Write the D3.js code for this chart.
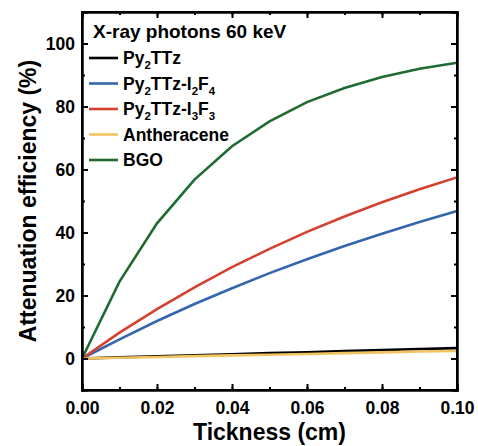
<!DOCTYPE html>
<html>
<head>
<meta charset="utf-8">
<script src="https://cdn.jsdelivr.net/npm/d3@7"></script>
<style>
  body { margin: 0; background: #fff; }
  text { font-family: Arial, "Liberation Sans", sans-serif; font-weight: bold; }
</style>
</head>
<body>
<svg id="chart" width="478" height="446"></svg>
<script>
// data
const thickness = [0, 0.01, 0.02, 0.03, 0.04, 0.05, 0.06, 0.07, 0.08, 0.09, 0.1];
const py2ttz = [0, 0.35, 0.7, 1.0, 1.35, 1.7, 2.0, 2.35, 2.65, 3.0, 3.3];
const py2ttzI2F4 = [0, 6.1, 11.9, 17.3, 22.3, 27.1, 31.5, 35.7, 39.6, 43.3, 46.8];
const py2ttzI3F3 = [0, 8.2, 15.7, 22.6, 29.0, 34.8, 40.2, 45.1, 49.6, 53.7, 57.5];
const antheracene = [0, 0.25, 0.5, 0.75, 1.0, 1.2, 1.45, 1.7, 1.95, 2.2, 2.4];
const bgo = [0, 24.4, 42.9, 56.8, 67.4, 75.3, 81.4, 85.9, 89.4, 92.0, 93.9];

const seriesValues = [py2ttz, py2ttzI2F4, py2ttzI3F3, antheracene, bgo];
const seriesColors = ["#000000", "#3466ad", "#d4412f", "#f2c45f", "#1f6b32"];
// legend labels with subscripts: [text, isSub]
const legendParts = [
  [["Py", 0], ["2", 1], ["TTz", 0]],
  [["Py", 0], ["2", 1], ["TTz-I", 0], ["2", 1], ["F", 0], ["4", 1]],
  [["Py", 0], ["2", 1], ["TTz-I", 0], ["3", 1], ["F", 0], ["3", 1]],
  [["Antheracene", 0]],
  [["BGO", 0]]
];

const xTicks = [0, 0.02, 0.04, 0.06, 0.08, 0.1];
const yTicks = [0, 20, 40, 60, 80, 100];

const margin = { left: 82, right: 21, top: 12, bottom: 56 };
const width = 478, height = 446;
const svg = d3.select("#chart");

const x = d3.scaleLinear().domain([0, 0.1]).range([margin.left, width - margin.right]);
const y = d3.scaleLinear().domain([-10, 110]).range([height - margin.bottom, margin.top]);

// curves
const line = d3.line().x((d, i) => x(thickness[i])).y(d => y(d));
const drawOrder = [1, 2, 4, 0, 3];
drawOrder.forEach(k => {
  svg.append("path")
    .datum(seriesValues[k])
    .attr("d", line)
    .attr("fill", "none")
    .attr("stroke", seriesColors[k])
    .attr("stroke-width", 2.6);
});

// axes, ticks pointing inward
const x0 = margin.left, x1 = width - margin.right;
const y0 = height - margin.bottom, y1 = margin.top;

const xMinor = d3.range(0, 0.1001, 0.01);
const yMinor = d3.range(-10, 110.01, 10);

svg.append("g").attr("transform", `translate(0,${y0})`)
  .call(d3.axisBottom(x).tickValues(xTicks).tickFormat(d3.format(".2f")).tickSize(-6).tickPadding(12));
svg.append("g").attr("transform", `translate(${x0},0)`)
  .call(d3.axisLeft(y).tickValues(yTicks).tickFormat(d3.format("d")).tickSize(-6).tickPadding(7));
svg.append("g").attr("transform", `translate(0,${y1})`)
  .call(d3.axisTop(x).tickValues(xTicks).tickSize(-6).tickFormat(""));
svg.append("g").attr("transform", `translate(${x1},0)`)
  .call(d3.axisRight(y).tickValues(yTicks).tickSize(-6).tickFormat(""));

// minor ticks
svg.append("g").attr("transform", `translate(0,${y0})`)
  .call(d3.axisBottom(x).tickValues(xMinor).tickSize(-3).tickFormat(""));
svg.append("g").attr("transform", `translate(0,${y1})`)
  .call(d3.axisTop(x).tickValues(xMinor).tickSize(-3).tickFormat(""));
svg.append("g").attr("transform", `translate(${x0},0)`)
  .call(d3.axisLeft(y).tickValues(yMinor).tickSize(-3).tickFormat(""));
svg.append("g").attr("transform", `translate(${x1},0)`)
  .call(d3.axisRight(y).tickValues(yMinor).tickSize(-3).tickFormat(""));

svg.selectAll(".domain").attr("stroke", "#000").attr("stroke-width", 2);
svg.selectAll(".tick line").attr("stroke", "#000").attr("stroke-width", 2);
svg.selectAll(".tick text")
  .attr("fill", "#000")
  .style("font-size", "17.5px")
  .style("font-weight", "bold")
  .style("font-family", "Arial, 'Liberation Sans', sans-serif");

// frame
svg.append("rect")
  .attr("x", x0).attr("y", y1)
  .attr("width", x1 - x0).attr("height", y0 - y1)
  .attr("fill", "none").attr("stroke", "#000").attr("stroke-width", 2);

// axis titles
svg.append("text")
  .attr("x", (x0 + x1) / 2).attr("y", 440)
  .attr("text-anchor", "middle")
  .style("font-size", "23px")
  .text("Tickness (cm)");
svg.append("text")
  .attr("transform", `translate(36,${(y0 + y1) / 2}) rotate(-90)`)
  .attr("text-anchor", "middle")
  .style("font-size", "23px")
  .text("Attenuation efficiency (%)");

// legend
svg.append("text")
  .attr("x", 93).attr("y", 38)
  .style("font-size", "19px")
  .text("X-ray photons 60 keV");

const legendY = [58, 83.5, 109, 134.5, 160];
legendParts.forEach((parts, i) => {
  const ly = legendY[i];
  svg.append("line")
    .attr("x1", 89).attr("x2", 118)
    .attr("y1", ly).attr("y2", ly)
    .attr("stroke", seriesColors[i]).attr("stroke-width", 2.6);
  const t = svg.append("text")
    .attr("x", 123).attr("y", ly + 6)
    .style("font-size", "17.5px");
  let prevSub = false;
  parts.forEach(([s, sub]) => {
    const ts = t.append("tspan").text(s);
    if (sub) ts.style("font-size", "11.5px").attr("dy", prevSub ? 0 : 5);
    else ts.attr("dy", prevSub ? -5 : 0);
    prevSub = !!sub;
  });
});
</script>
</body>
</html>
